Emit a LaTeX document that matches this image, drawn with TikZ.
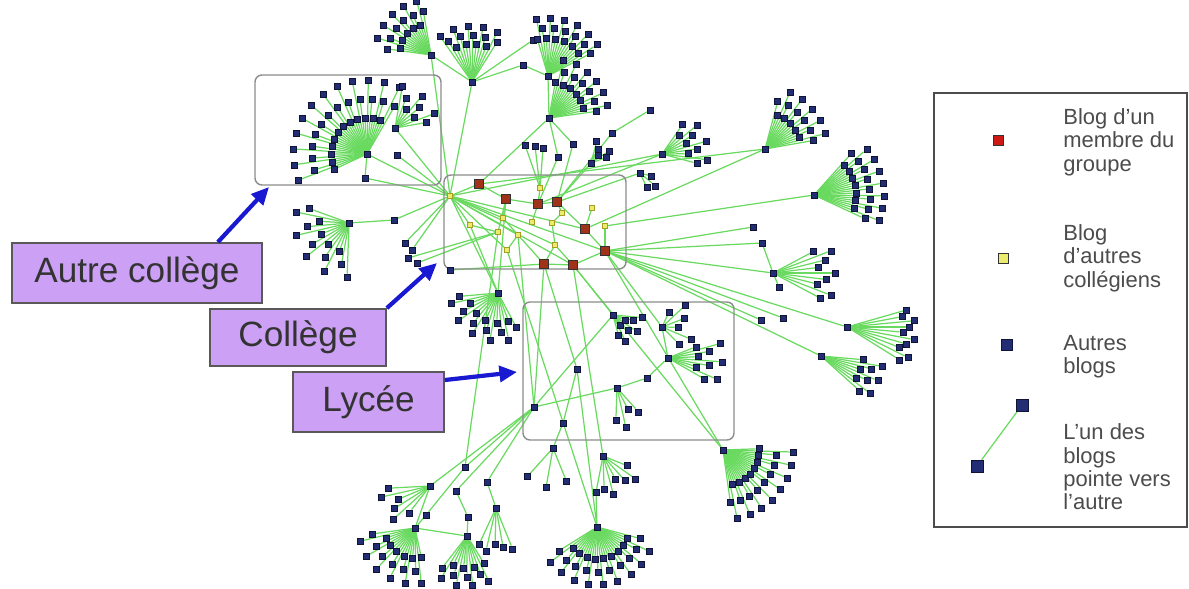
\documentclass[tikz,border=0pt]{standalone}
\usepackage{fontspec}
\setmainfont{Liberation Sans}
\usepackage{tikz}
\usetikzlibrary{calc,arrows.meta}
\definecolor{linkgreen}{RGB}{105,218,95}
\definecolor{blognavy}{RGB}{35,45,115}
\definecolor{blogedge}{RGB}{15,20,55}
\definecolor{memberred}{RGB}{160,50,25}
\definecolor{legendred}{RGB}{205,25,20}
\definecolor{collyellow}{RGB}{235,235,110}
\definecolor{calloutviolet}{RGB}{204,160,245}
\definecolor{arrowblue}{RGB}{25,25,210}
\definecolor{zonegray}{RGB}{140,140,140}
\pgfdeclarelayer{edges}
\pgfsetlayers{edges,main}
\tikzstyle{blog} = [rectangle, draw=blogedge, fill=blognavy, line width=0.3pt, minimum size=0.12cm, inner sep=0pt]
\tikzstyle{member} = [rectangle, draw=black!80, fill=memberred, line width=0.4pt, minimum size=0.17cm, inner sep=0pt]
\tikzstyle{collegien} = [rectangle, draw=olive!80, fill=collyellow, line width=0.4pt, minimum size=0.1cm, inner sep=0pt]
\tikzstyle{link} = [draw=linkgreen, line width=0.7pt]
\tikzstyle{zone} = [draw=zonegray, line width=0.8pt, rounded corners=4pt]
\tikzstyle{callout} = [rectangle, draw=black!65, line width=1pt, fill=calloutviolet, text=black!80, font=\fontsize{20}{23}\selectfont]
\tikzstyle{legtext} = [align=left, anchor=west, inner sep=0pt, text=black!70, font=\fontsize{12.5}{13.3}\selectfont]
% fan of leaf blogs round a hub: name, from angle, to angle, count, radius, row step
\newcommand{\blogfan}[6]{%
  \foreach \k in {1,...,#4}{%
    \pgfmathsetmacro\ang{-(#2+(\k-1)*(#3-#2)/(#4-1))}%
    \pgfmathsetmacro\rad{#5+mod(\k,3)*#6}%
    \node[blog] (#1-\k) at ($(#1)+(\ang:\rad)$) {};
  }}
% hub -> leaves
\newcommand{\fanlinks}[2]{%
  \foreach \k in {1,...,#2}{\draw[link] (#1) -- (#1-\k);}}
% hub/from/to/count/radius/step
\def\fanlist{ta/100/172/16/32/12, tb/58/125/14/38/9, tc/28/106/18/38/10, td/8/80/18/36/12,
  ac/60/205/36/36/19, ad/10/80/8/22/10, hl/160/268/14/30/12, hk/185/298/16/30/9,
  he/-15/55/10/26/10, hf/10/75/16/36/13, hg/-25/48/22/42/14, hh/-28/28/9/46/8,
  hi/-32/16/10/56/6, hj/-42/-5/9/42/10, hq/-82/2/24/36/17, hm/-148/-15/28/32/13,
  hn/188/282/18/30/13, ho/232/302/12/32/9, hp/245/292/5/36/4, hr/183/232/6/34/8,
  ly1/-75/-5/8/13/8, ly2/-45/65/6/16/8, ly3/-30/22/9/30/12, ly4/-92/-48/4/24/8,
  ly5/228/292/3/36/2, ly6/-88/-22/6/26/7, hs/-65/-15/3/12/4, ht/20/75/5/10/6}

\begin{document}
\begin{tikzpicture}[x=0.02cm, y=-0.02cm]
    \tikzset{bluptr/.style={draw=arrowblue, line width=2.4pt, -{Triangle[length=10pt,width=9pt]}}}
    \useasboundingbox (0,0) rectangle (1189,588);

    % zones
    \draw[zone] (255,75) rectangle (441,185);
    \draw[zone] (444,175) rectangle (626,269);
    \draw[zone] (523,302) rectangle (734,440);

    % hubs and single blogs
    \foreach \nm/\px/\py in {ta/431/55, tb/472/82, tc/548/76, td/549/118, ac/367/154, ad/395/128,
        hl/349/223, hk/498/293, he/662/154, hf/765/149, hg/814/195, hh/773/273, hi/847/327,
        hj/821/356, hq/723/450, hm/597/527, hn/415/528, ho/467/536, hp/496/508, hr/430/486,
        ly1/613/315, ly2/662/327, ly3/668/358, ly4/617/388, ly5/553/448, ly6/603/456,
        ly7/577/369, ly8/534/407, hs/640/173, ht/591/163,
        m1/533/40, m2/523/65, m3/650/110, m4/612/133, m5/573/144, m6/558/157, m7/753/227,
        m8/762/243, m9/779/287, m10/761/320, m11/783/318, m12/394/220, m13/365/178,
        m14/397/155, m15/450/270, m16/563/423, m17/647/378, m18/465/467, m19/456/491,
        m20/487/482, m21/426/515, m22/468/517, m23/525/145, m24/535/146, m25/543/148,
        m26/405/243, m27/412/250, m28/408/258, m29/417/263, m30/596/492}
      \node[blog] (\nm) at (\px,\py) {};

    % blogs of other pupils
    \foreach \nm/\px/\py in {y1/450/196, y2/498/232, y3/518/235, y4/532/222, y5/552/223,
        y6/555/245, y7/592/208, y8/605/226, y9/507/250, y10/503/218, y11/540/188,
        y12/562/213, y13/470/225}
      \node[collegien] (\nm) at (\px,\py) {};

    % blogs of the group
    \foreach \nm/\px/\py in {r1/479/184, r2/506/199, r3/538/204, r4/557/202,
        r5/585/229, r6/605/251, r7/544/264, r8/573/265}
      \node[member] (\nm) at (\px,\py) {};

    % leaf fans
    \foreach \h/\a/\b/\n/\r/\d in \fanlist
      \blogfan{\h}{\a}{\b}{\n}{\r}{\d};

    % legend
    \draw[draw=black!70, line width=0.8pt] (934,93) rectangle (1187,527);
    \node[member, fill=legendred, minimum size=0.2cm] (lgmember) at (998,140) {};
    \node[legtext] (txmember) at (1063,142) {Blog d'un\\membre du\\groupe};
    \node[collegien, draw=black!80, minimum size=0.2cm] (lgcoll) at (1003,258) {};
    \node[legtext] (txcoll) at (1063,258) {Blog\\d'autres\\collégiens};
    \node[blog, minimum size=0.22cm] (lgblog) at (1007,345) {};
    \node[legtext] (txblog) at (1063,357) {Autres\\blogs};
    \node[blog, minimum size=0.24cm] (lgto) at (1022,405) {};
    \node[blog, minimum size=0.24cm] (lgfrom) at (977,466) {};
    \node[legtext] (txlink) at (1063,467) {L'un des\\blogs\\pointe vers\\l'autre};

    % links between blogs
    \begin{pgfonlayer}{edges}
    \foreach \h/\a/\b/\n/\r/\d in \fanlist
      \fanlinks{\h}{\n};
    \foreach \u/\v in {y1/r1, r1/r2, r2/r3, r3/r4, r2/y10, y10/y3, y3/r7, r7/r8, r8/r6,
        r6/r5, r5/r4, r4/y12, y12/y5, y5/y6, y6/r7, y2/r2, y9/y3, y4/r3, y11/r3, y7/r5,
        y8/r6, y13/y1, y13/y2, y1/y10, y6/r8, y1/y3, y1/y6, y1/r5, y1/r6, y1/r8, y1/y9,
        ta/y1, tb/y1, ta/tb, tb/m1, tb/m2, m2/tc, tc/td, td/r1, td/m5, td/m6, m6/r3, m5/r4,
        m3/m4, m4/r4, ac/y1, ad/y1, m14/y1, ac/m13, m13/y1, hl/m12, m12/y1, m26/y1, m27/y1,
        m28/y2, m29/y2, m15/r7, hk/r2, hk/y1, he/r3, hs/r4, ht/r4, m23/y11, m24/y11, m25/y11,
        hf/r5, hg/y8, m7/r6, m8/r6, m8/hh, hh/m9, hh/r6, m10/r6, m11/r6, hi/r6, hj/r6,
        hq/r6, hq/r8, ly1/r8, ly1/ly8, ly2/r6, ly2/ly3, ly3/m17, m17/ly4, ly4/ly8,
        ly7/r7, ly7/hm, ly7/m16, m16/ly5, ly6/r8, ly6/m30, m30/hm, ly8/r7, ly8/m18, ly8/hr,
        ly8/m19, ly8/m20, m18/m21, hr/hn, m19/m22, m22/ho, m20/hp, hn/ho, m21/hn,
        y3/ly8, y2/m18, y9/hm, y1/he, r1/hf, y13/hk}
      \draw[link] (\u) -- (\v);
    \draw[link] (lgfrom) -- (lgto);
    \end{pgfonlayer}

    % callouts
    \node[callout, minimum width=5cm, minimum height=1.2cm] (autrecol) at (137,273) {Autre collège};
    \node[callout, minimum width=3.52cm, minimum height=1.14cm] (college) at (298,337.5) {Collège};
    \node[callout, minimum width=3.02cm, minimum height=1.2cm] (lycee) at (368.5,402) {Lycée};
    \coordinate (autretip) at (269,187);
    \coordinate (collegetip) at (437,263);
    \coordinate (lyceetip) at (517,372);
    \draw[bluptr] ([xshift=-0.9cm]autrecol.north east) -- (autretip);
    \draw[bluptr] (college.north east) -- (collegetip);
    \draw[bluptr] ([yshift=0.44cm]lycee.east) -- (lyceetip);
\end{tikzpicture}
\end{document}
